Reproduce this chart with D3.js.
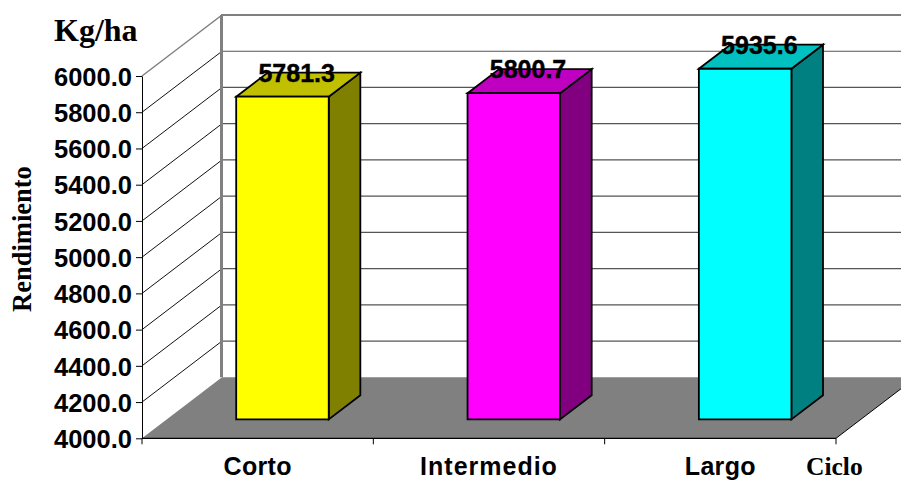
<!DOCTYPE html>
<html>
<head>
<meta charset="utf-8">
<script src="https://cdn.jsdelivr.net/npm/d3@7"></script>
<style>
html, body { margin: 0; padding: 0; background: #fff; }
svg { display: block; }
</style>
</head>
<body>
<svg id="chart" width="901" height="480"></svg>
<script>
const categories = ["Corto", "Intermedio", "Largo"];
const rendimiento = [5781.3, 5800.7, 5935.6];
const frontColors = ["#ffff00", "#ff00ff", "#00ffff"];
const topColors = ["#c0c000", "#c000c0", "#00c0c0"];
const sideColors = ["#808000", "#800080", "#008080"];
const yTicks = [4000, 4200, 4400, 4600, 4800, 5000, 5200, 5400, 5600, 5800, 6000];

const svg = d3.select("#chart");
const serif = "'Liberation Serif', 'Times New Roman', serif";
const sans = "'Liberation Sans', Arial, sans-serif";

// Front plane of the oblique box, plus the shift applied per unit of depth
const x = d3.scaleBand().domain(categories).range([142, 836]).paddingInner(0.6).paddingOuter(0.3);
const y = d3.scaleLinear().domain([4000, 6000]).range([438.3, 76]);
const depthX = d3.scaleLinear().domain([0, 1]).range([0, 80]);
const depthY = d3.scaleLinear().domain([0, 1]).range([0, -61]);
const xLeft = 142, xRight = 836;
const barNear = 0.31, barFar = 0.705;

const px = (sx, d) => sx + depthX(d);
const py = (v, d) => y(v) + depthY(d);
const poly = pts => pts.map(p => p.join(",")).join(" ");

// Floor
svg.append("polygon")
  .attr("points", poly([[px(xLeft, 0), py(4000, 0)], [px(xLeft, 1), py(4000, 1)], [px(xRight, 1), py(4000, 1)], [px(xRight, 0), py(4000, 0)]]))
  .attr("fill", "#808080");

// Back wall gridlines
svg.append("g").selectAll("line").data(yTicks.slice(1, -1)).join("line")
  .attr("x1", px(xLeft, 1)).attr("x2", 901)
  .attr("y1", d => py(d, 1)).attr("y2", d => py(d, 1))
  .attr("stroke", "#555").attr("stroke-width", 1.2);

// Side wall gridlines
svg.append("g").selectAll("line").data(yTicks.slice(1, -1)).join("line")
  .attr("x1", px(xLeft, 0)).attr("x2", px(xLeft, 1))
  .attr("y1", d => py(d, 0)).attr("y2", d => py(d, 1))
  .attr("stroke", "#111").attr("stroke-width", 1);

// Wall outlines
const wall = "#808080";
svg.append("line").attr("x1", px(xLeft, 1) - 1).attr("x2", 901).attr("y1", py(6000, 1)).attr("y2", py(6000, 1)).attr("stroke", wall).attr("stroke-width", 2);
svg.append("line").attr("x1", px(xLeft, 1) - 0.5).attr("x2", px(xLeft, 1) - 0.5).attr("y1", py(6000, 1)).attr("y2", py(4000, 1)).attr("stroke", wall).attr("stroke-width", 3);
svg.append("line").attr("x1", px(xLeft, 0)).attr("x2", px(xLeft, 1)).attr("y1", py(6000, 0)).attr("y2", py(6000, 1)).attr("stroke", wall).attr("stroke-width", 1.5);

// Bars: side, top, front faces
const bars = svg.append("g").selectAll("g").data(categories).join("g");
bars.each(function (c, i) {
  const g = d3.select(this);
  const x0 = x(c), x1 = x(c) + x.bandwidth(), v = rendimiento[i];
  const face = (pts, fill) => g.append("polygon").attr("points", poly(pts)).attr("fill", fill)
    .attr("stroke", "#000").attr("stroke-width", 1.8).attr("stroke-linejoin", "miter");
  face([[px(x1, barNear), py(4000, barNear)], [px(x1, barFar), py(4000, barFar)], [px(x1, barFar), py(v, barFar)], [px(x1, barNear), py(v, barNear)]], sideColors[i]);
  face([[px(x0, barNear), py(v, barNear)], [px(x0, barFar), py(v, barFar)], [px(x1, barFar), py(v, barFar)], [px(x1, barNear), py(v, barNear)]], topColors[i]);
  face([[px(x0, barNear), py(4000, barNear)], [px(x0, barNear), py(v, barNear)], [px(x1, barNear), py(v, barNear)], [px(x1, barNear), py(4000, barNear)]], frontColors[i]);
});

// Front axes
const axisY = svg.append("g").attr("transform", `translate(${xLeft},0)`)
  .call(d3.axisLeft(y).tickValues(yTicks).tickFormat(d3.format(".1f")).tickSizeInner(6).tickSizeOuter(0).tickPadding(4));
axisY.selectAll("text").attr("font-family", sans).attr("font-weight", "bold").attr("font-size", 25.5).attr("dy", "0.36em").attr("fill", "#000");
axisY.selectAll("line,path").attr("stroke", "#000");

const ticksX = [0, 1, 2, 3].map(i => xLeft + i * (xRight - xLeft) / 3);
svg.append("line").attr("x1", xLeft).attr("x2", xRight).attr("y1", y(4000)).attr("y2", y(4000)).attr("stroke", "#000").attr("stroke-width", 1.2);
svg.append("g").selectAll("line").data(ticksX).join("line")
  .attr("x1", d => d).attr("x2", d => d).attr("y1", y(4000)).attr("y2", y(4000) + 6).attr("stroke", "#000");
svg.append("line").attr("x1", xRight).attr("y1", y(4000)).attr("x2", 901).attr("y2", y(4000) + depthY((901 - xRight) / 80)).attr("stroke", "#000");

// Category labels
svg.append("g").selectAll("text").data(categories).join("text")
  .attr("x", d => x(d) + x.bandwidth() / 2).attr("y", 475)
  .attr("text-anchor", "middle").attr("font-family", sans).attr("font-weight", "bold").attr("font-size", 25)
  .attr("letter-spacing", d => d.length > 5 ? 1 : 0.3)
  .text(d => d);

// Value labels
svg.append("g").selectAll("text").data(categories).join("text")
  .attr("x", c => x(c) + x.bandwidth() / 2 + 39)
  .attr("y", (c, i) => py(rendimiento[i], barFar) + 9)
  .attr("text-anchor", "middle").attr("font-family", sans).attr("font-weight", "bold").attr("font-size", 25)
  .attr("stroke", "#000").attr("stroke-width", 0.4)
  .text((c, i) => d3.format(".1f")(rendimiento[i]));

// Axis titles
svg.append("text").attr("x", 54).attr("y", 41).attr("font-family", serif).attr("font-weight", "bold").attr("font-size", 32).text("Kg/ha");
svg.append("text").attr("transform", "translate(30.5,239) rotate(-90)").attr("text-anchor", "middle").attr("font-family", serif).attr("font-weight", "bold").attr("font-size", 26.5).text("Rendimiento");
svg.append("text").attr("x", 806).attr("y", 474.5).attr("font-family", serif).attr("font-weight", "bold").attr("font-size", 25.5).text("Ciclo");
</script>
</body>
</html>
